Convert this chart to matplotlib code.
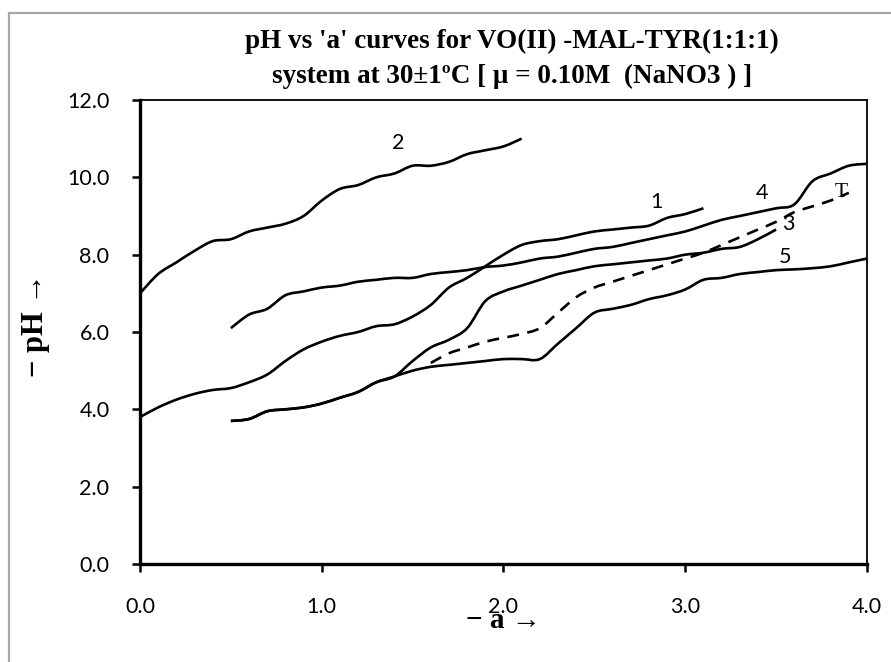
import numpy as np
import matplotlib
matplotlib.use("Agg")
import matplotlib.pyplot as plt
from matplotlib.path import Path
from matplotlib.patches import PathPatch, Rectangle

# ---- data: pH against 'a' for each titration curve ----
a_curve1 = [0.0, 0.1, 0.2, 0.3, 0.4, 0.5, 0.6, 0.7, 0.8, 0.9, 1.0, 1.1, 1.2, 1.3, 1.4, 1.5,
            1.6, 1.7, 1.8, 1.9, 2.0, 2.1, 2.2, 2.3, 2.4, 2.5, 2.6, 2.7, 2.8, 2.9, 3.0, 3.1]
ph_curve1 = [3.8, 4.05, 4.25, 4.4, 4.5, 4.55, 4.7, 4.9, 5.25, 5.55, 5.75, 5.9, 6.0, 6.15, 6.2, 6.4,
             6.7, 7.15, 7.4, 7.7, 8.0, 8.25, 8.35, 8.4, 8.5, 8.6, 8.65, 8.7, 8.75, 8.95, 9.05, 9.2]

a_curve2 = [0.0, 0.1, 0.2, 0.3, 0.4, 0.5, 0.6, 0.7, 0.8, 0.9, 1.0, 1.1,
            1.2, 1.3, 1.4, 1.5, 1.6, 1.7, 1.8, 1.9, 2.0, 2.1]
ph_curve2 = [7.0, 7.5, 7.8, 8.1, 8.35, 8.4, 8.6, 8.7, 8.8, 9.0, 9.4, 9.7,
             9.8, 10.0, 10.1, 10.3, 10.3, 10.4, 10.6, 10.7, 10.8, 11.0]

a_curve3 = [0.5, 0.6, 0.7, 0.8, 0.9, 1.0, 1.1, 1.2, 1.3, 1.4, 1.5, 1.6, 1.7, 1.8, 1.9, 2.0,
            2.1, 2.2, 2.3, 2.4, 2.5, 2.6, 2.7, 2.8, 2.9, 3.0, 3.1, 3.2, 3.3, 3.4, 3.5]
ph_curve3 = [3.7, 3.75, 3.95, 4.0, 4.05, 4.15, 4.3, 4.45, 4.7, 4.85, 5.25, 5.6, 5.8, 6.1, 6.8, 7.05,
             7.2, 7.35, 7.5, 7.6, 7.7, 7.75, 7.8, 7.85, 7.9, 8.0, 8.05, 8.15, 8.2, 8.4, 8.65]

a_curve4 = [0.5, 0.6, 0.7, 0.8, 0.9, 1.0, 1.1, 1.2, 1.3, 1.4, 1.5, 1.6, 1.7, 1.8, 1.9, 2.0, 2.1, 2.2,
            2.3, 2.4, 2.5, 2.6, 2.7, 2.8, 2.9, 3.0, 3.1, 3.2, 3.3, 3.4, 3.5, 3.6, 3.7, 3.8, 3.9, 4.0]
ph_curve4 = [6.1, 6.45, 6.6, 6.95, 7.05, 7.15, 7.2, 7.3, 7.35, 7.4, 7.4, 7.5, 7.55, 7.6, 7.68, 7.72, 7.8, 7.9,
             7.95, 8.05, 8.15, 8.2, 8.3, 8.4, 8.5, 8.6, 8.75, 8.9, 9.0, 9.1, 9.2, 9.3, 9.9, 10.1, 10.3, 10.35]

a_curve5 = [0.5, 0.6, 0.7, 0.8, 0.9, 1.0, 1.1, 1.2, 1.3, 1.4, 1.5, 1.6, 1.7, 1.8, 1.9, 2.0, 2.1, 2.2,
            2.3, 2.4, 2.5, 2.6, 2.7, 2.8, 2.9, 3.0, 3.1, 3.2, 3.3, 3.4, 3.5, 3.6, 3.7, 3.8, 3.9, 4.0]
ph_curve5 = [3.7, 3.75, 3.95, 4.0, 4.05, 4.15, 4.3, 4.45, 4.7, 4.85, 5.0, 5.1, 5.15, 5.2, 5.25, 5.3, 5.3, 5.3,
             5.7, 6.1, 6.5, 6.6, 6.7, 6.85, 6.95, 7.1, 7.35, 7.4, 7.5, 7.55, 7.6, 7.62, 7.65, 7.7, 7.8, 7.9]

a_theory = [1.6, 1.7, 1.8, 1.9, 2.0, 2.1, 2.2, 2.3, 2.4, 2.5, 2.6, 2.7,
            2.8, 2.9, 3.0, 3.1, 3.2, 3.3, 3.4, 3.5, 3.6, 3.7, 3.8, 3.9]
ph_theory = [5.2, 5.45, 5.6, 5.75, 5.85, 5.95, 6.1, 6.5, 6.9, 7.15, 7.3, 7.45,
             7.6, 7.75, 7.9, 8.05, 8.25, 8.45, 8.65, 8.85, 9.1, 9.25, 9.4, 9.6]

x_ticks = [0.0, 1.0, 2.0, 3.0, 4.0]
y_ticks = [0.0, 2.0, 4.0, 6.0, 8.0, 10.0, 12.0]

title_text = "pH vs 'a' curves for VO(II) -MAL-TYR(1:1:1)\nsystem at 30\u00b11\u00baC [ \u03bc = 0.10M  (NaNO3 ) ]"


def smooth_path(x, y):
    """Cubic Bezier path through the points (spreadsheet-style smoothed line)."""
    x = np.asarray(x, float)
    y = np.asarray(y, float)
    pts = np.column_stack([x, y])
    n = len(pts)
    verts = [pts[0]]
    codes = [Path.MOVETO]
    for i in range(n - 1):
        p0 = pts[i - 1] if i > 0 else pts[i]
        p1 = pts[i]
        p2 = pts[i + 1]
        p3 = pts[i + 2] if i + 2 < n else pts[i + 1]
        c1 = p1 + (p2 - p0) / 6.0
        c2 = p2 - (p3 - p1) / 6.0
        verts += [c1, c2, p2]
        codes += [Path.CURVE4] * 3
    return Path(verts, codes)


fig = plt.figure(figsize=(8.91, 6.62), dpi=100)
fig.patch.set_facecolor("white")

# chart-area frame
fig.add_artist(Rectangle((9 / 891, -0.05), 1.2, 1 - 13 / 662 + 0.05,
                         transform=fig.transFigure, fill=False,
                         edgecolor="#a6a6a6", linewidth=1.6))

ax = fig.add_axes([140 / 891, 1 - 564 / 662, 727 / 891, 464 / 662])
ax.set_xlim(0, 4)
ax.set_ylim(0, 12)

series = [
    (a_curve1, ph_curve1, "-"),
    (a_curve2, ph_curve2, "-"),
    (a_curve3, ph_curve3, "-"),
    (a_curve4, ph_curve4, "-"),
    (a_curve5, ph_curve5, "-"),
    (a_theory, ph_theory, (0, (4.5, 3.2))),
]
for xs, ys, ls in series:
    ax.add_patch(PathPatch(smooth_path(xs, ys), fill=False, edgecolor="black",
                           linewidth=1.9, linestyle=ls, capstyle="butt",
                           joinstyle="round"))

# curve labels
num_font = dict(family=["Lato", "DejaVu Sans"], fontsize=15.5, color="black",
                ha="center", va="center")
ax.text(1.42, 10.9, "2", **num_font)
ax.text(2.84, 9.35, "1", **num_font)
ax.text(3.42, 9.6, "4", **num_font)
ax.text(3.57, 8.8, "3", **num_font)
ax.text(3.55, 7.95, "5", **num_font)
ax.text(3.86, 9.6, "T", family="Liberation Serif", fontsize=15.5,
        ha="center", va="center")

ax.set_xticks(x_ticks)
ax.set_yticks(y_ticks)
ax.set_xticklabels([f"{v:.1f}" for v in x_ticks])
ax.set_yticklabels([f"{v:.1f}" for v in y_ticks])
for lab in ax.get_xticklabels() + ax.get_yticklabels():
    lab.set_family(["Lato", "DejaVu Sans"])
    lab.set_fontsize(15.5)
ax.tick_params(axis="both", direction="out", length=6, width=1.8, color="black")
ax.tick_params(axis="x", pad=18)
ax.tick_params(axis="y", pad=16)

for side in ("left", "bottom"):
    ax.spines[side].set_linewidth(2.4)
for side in ("top", "right"):
    ax.spines[side].set_linewidth(1.3)

fig.text(512 / 891, 1 - 59 / 662, title_text, ha="center", va="center",
         family="Liberation Serif", fontweight="bold", fontsize=19.5,
         linespacing=1.5)
fig.text(503 / 891, 1 - 620 / 662, "\u2212 a \u2192", ha="center", va="center",
         family=["Liberation Serif", "DejaVu Serif"], fontweight="bold", fontsize=21)
fig.text(35 / 891, 1 - 325 / 662, "\u2212 pH \u2192", ha="center", va="center",
         rotation=90, family=["Liberation Serif", "DejaVu Serif"],
         fontweight="bold", fontsize=22)

fig.savefig("out.png", dpi=100, facecolor="white")
